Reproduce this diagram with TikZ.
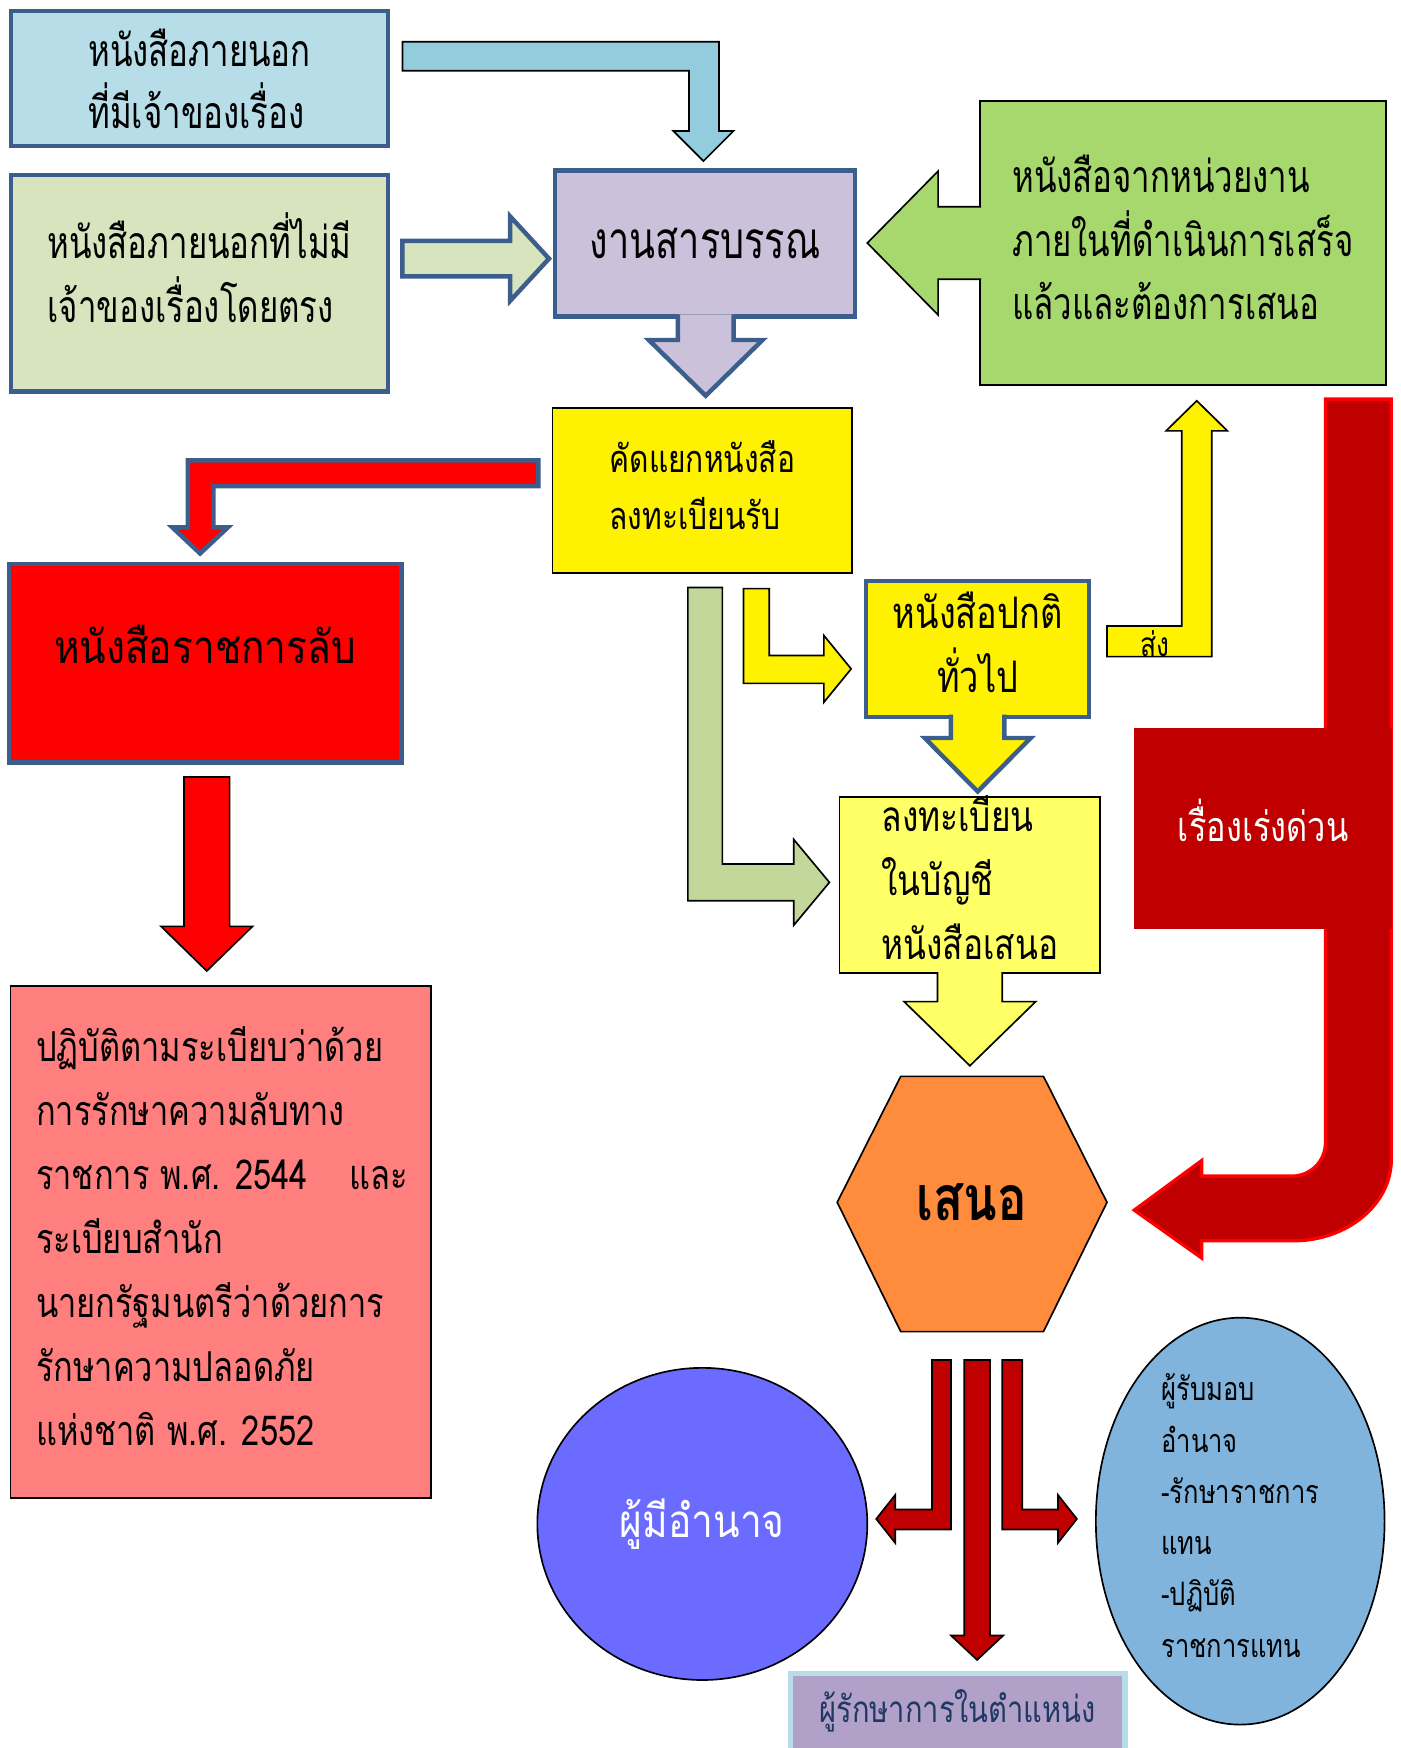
\documentclass[tikz,border=0pt]{standalone}
\usepackage{fontspec}
\usepackage{tikz}
\usetikzlibrary{positioning,calc,shapes.geometric}

\newfontfamily\thainarrow[Script=Thai,FakeStretch=0.74]{Loma}
\newfontfamily\thaifont[Script=Thai,FakeStretch=0.79]{Loma}
\newfontfamily\thaiplain[Script=Thai,FakeStretch=0.85]{Loma}

\definecolor{frameblue}{HTML}{3B5E8C}
\definecolor{paleblue}{HTML}{B7DDE8}
\definecolor{arrowblue}{HTML}{93CDDD}
\definecolor{paleolive}{HTML}{D7E4BD}
\definecolor{lavender}{HTML}{CCC1DA}
\definecolor{leafgreen}{HTML}{A6D86E}
\definecolor{lightyellow}{HTML}{FFFF66}
\definecolor{salmon}{HTML}{FF7F7F}
\definecolor{olivearrow}{HTML}{C4D79B}
\definecolor{darkred}{HTML}{C00000}
\definecolor{hexorange}{HTML}{FF8B3D}
\definecolor{periwinkle}{HTML}{6B6BFF}
\definecolor{skyblue}{HTML}{80B4DD}
\definecolor{mauve}{HTML}{B1A0C7}
\definecolor{navytext}{HTML}{1F3864}

\begin{document}
\begin{tikzpicture}[
    x=1pt, y=-1pt,
    panel/.style={rectangle, inner sep=0pt, outer sep=0pt, align=center},
    words/.style={inner sep=0pt, align=left},
    frame/.style={draw=frameblue, line width=4pt},
    outline/.style={draw=black, line width=1.5pt},
    block/.style={outline, line join=miter}
]
\useasboundingbox (0,0) rectangle (1256,1568);

% Define boxes
\node[panel, frame, fill=paleblue, minimum width=338pt, minimum height=121pt, align=left,
  font=\thainarrow\fontsize{40}{56}\selectfont] (outside) at (179,70.5) {หนังสือภายนอก\\ที่มีเจ้าของเรื่อง};
\node[panel, frame, fill=paleolive, minimum width=338pt, minimum height=194pt] (indirect) at (179,254) {};
\node[words, font=\thainarrow\fontsize{40}{57}\selectfont] (indirecttext) at (179,240) {หนังสือภายนอกที่ไม่มี\\เจ้าของเรื่องโดยตรง};
\node[panel, frame, fill=lavender, minimum width=269pt, minimum height=131pt,
  font=\thainarrow\fontsize{46}{56}\selectfont] (sarabun) at (632.5,218.5) {งานสารบรรณ};
\node[panel, outline, fill=leafgreen, minimum width=364pt, minimum height=255pt] (internal) at (1061,218) {};
\node[words, font=\thainarrow\fontsize{40}{57}\selectfont] (internaltext) at (1061,213) {หนังสือจากหน่วยงาน\\ภายในที่ดำเนินการเสร็จ\\แล้วและต้องการเสนอ};
\node[panel, outline, fill=yellow, minimum width=269pt, minimum height=148pt] (sort) at (630,440) {};
\node[words, font=\thaifont\fontsize{34}{51}\selectfont] (sorttext) at (630,435) {คัดแยกหนังสือ\\ลงทะเบียนรับ};
\node[panel, frame, fill=red, minimum width=352pt, minimum height=178pt, text height=25pt, text depth=25pt,
  font=\thaiplain\fontsize{41}{50}\selectfont] (secret) at (184,595) {หนังสือราชการลับ};
\node[panel, outline, fill=salmon, minimum width=377pt, minimum height=459pt] (rules) at (198,1114) {};
\node[words, font=\thaifont\fontsize{37}{57.4}\selectfont] (rulestext) at (199,1109)
  {ปฏิบัติตามระเบียบว่าด้วย\\การรักษาความลับทาง\\ราชการ พ.ศ. 2544\hspace{1em}และ\\ระเบียบสำนัก\\นายกรัฐมนตรีว่าด้วยการ\\รักษาความปลอดภัย\\แห่งชาติ พ.ศ. 2552};
\node[panel, frame, fill=yellow, minimum width=200pt, minimum height=122pt] (normal) at (877,582) {};
\node[words, align=center, font=\thaifont\fontsize{39}{57}\selectfont] (normaltext) at (877,576) {หนังสือปกติ\\ทั่วไป};
\node[panel, outline, fill=lightyellow, minimum width=234pt, minimum height=158pt] (register) at (870,794) {};
\node[words, font=\thaifont\fontsize{38}{57.5}\selectfont] (registertext) at (870,787) {ลงทะเบียน\\ในบัญชี\\หนังสือเสนอ};

% Callout arrows under / beside boxes
\draw[frame, fill=lavender] ([xshift=-24.5pt,yshift=2pt]sarabun.south) -- ++(0,23) -- ++(-26,0)
  -- ++(51,50) -- ++(51,-50) -- ++(-26,0) -- ++(0,-23);
\draw[outline, fill=leafgreen] ([xshift=1pt,yshift=32.5pt]internal.west) -- ++(-38.5,0) -- ++(0,-32)
  -- ++(-63.5,64.5) -- ++(63.5,64.5) -- ++(0,-32) -- ++(38.5,0);
\draw[frame, fill=yellow] ([xshift=-24pt,yshift=2pt]normal.south) -- ++(0,21) -- ++(-23.5,0)
  -- ++(47.5,48) -- ++(47.5,-48) -- ++(-23.5,0) -- ++(0,-21);
\draw[outline, fill=lightyellow] ([xshift=-29pt,yshift=1pt]register.south) -- ++(0,26.5) -- ++(-30,0)
  -- ++(59,57.5) -- ++(59,-57.5) -- ++(-30,0) -- ++(0,-26.5);

% Block arrows between boxes
\draw[block, fill=arrowblue] ([xshift=-1.5pt,yshift=8.5pt]sarabun.north) -- ++(27,-27) -- ++(-13,0)
  -- ++(0,-80) -- ++(-284,0) -- ++(0,26) -- ++(257,0) -- ++(0,54) -- ++(-14,0) -- cycle;
\draw[frame, line join=miter, fill=paleolive] ([xshift=-5.5pt,yshift=-13.5pt]sarabun.west) -- ++(-35,-38)
  -- ++(0,22) -- ++(-96.5,0) -- ++(0,32) -- ++(96.5,0) -- ++(0,22) -- cycle;
\draw[frame, line join=miter, fill=red] ([xshift=-4.5pt,yshift=9.5pt]secret.north) -- ++(-25,-23.5)
  -- ++(14,0) -- ++(0,-60) -- ++(314.5,0) -- ++(0,23) -- ++(-291.5,0) -- ++(0,37) -- ++(13,0) -- cycle;
\draw[block, fill=red] ([xshift=-12.5pt,yshift=13.5pt]rules.north) -- ++(-41,-40) -- ++(20.5,0)
  -- ++(0,-134) -- ++(41,0) -- ++(0,134) -- ++(20.5,0) -- cycle;
\draw[block, fill=olivearrow] ([xshift=-9pt,yshift=2.5pt]register.west) -- ++(-32,-38.5) -- ++(0,22)
  -- ++(-64,0) -- ++(0,-248) -- ++(-31,0) -- ++(0,281) -- ++(95,0) -- ++(0,22) -- cycle;
\draw[block, fill=yellow] ([xshift=-13.5pt,yshift=-18pt]normal.west) -- ++(-24.5,-30) -- ++(0,18)
  -- ++(-49,0) -- ++(0,-60) -- ++(-23,0) -- ++(0,85) -- ++(72,0) -- ++(0,17) -- cycle;
\draw[block, fill=yellow] ([xshift=12.5pt,yshift=-14pt]internal.south) -- ++(27.5,27) -- ++(-14,0)
  -- ++(0,202.5) -- ++(-94,0) -- ++(0,-27.5) -- ++(67,0) -- ++(0,-175) -- ++(-14,0) -- cycle;
\node[font=\thaifont\fontsize{30}{36}\selectfont, inner sep=0pt] (send) at (1036,577) {ส่ง};

% Urgent path
\draw[draw=red, line width=3pt, fill=darkred, line join=miter] (1189,358) -- (1248,358) -- (1248,1040)
  arc[start angle=0, end angle=90, x radius=88, y radius=73] -- (1078,1113) -- (1078,1128.5)
  -- (1017.5,1085.5) -- (1078,1041) -- (1078,1055) -- (1159,1055)
  arc[start angle=90, end angle=0, radius=30] -- cycle;
\node[panel, fill=darkred, text=white, minimum width=231pt, minimum height=180pt, text height=35pt, text depth=12pt,
  font=\thaifont\fontsize{37}{46}\selectfont] (urgent) at (1133,743) {เรื่องเร่งด่วน};

% Present
\draw[outline, fill=hexorange] (751,1078.5) -- (808,965.5) -- (936,965.5) -- (993,1078.5)
  -- (936,1194.5) -- (808,1194.5) -- cycle;
\node[font=\thaifont\bfseries\fontsize{56}{60}\selectfont, inner sep=0pt] (present) at (872,1078) {เสนอ};

% Outcomes
\node[ellipse, outline, fill=periwinkle, text=white, minimum width=296pt, minimum height=280pt, inner sep=0pt,
  font=\thaiplain\fontsize{41}{46}\selectfont] (authority) at (630,1367) {ผู้มีอำนาจ};
\node[ellipse, outline, fill=skyblue, minimum width=259pt, minimum height=365pt, inner sep=0pt] (delegate) at (1112.5,1364.5) {};
\node[words, font=\thaifont\fontsize{29}{46}\selectfont] (delegatetext) at (1112.5,1359.5)
  {ผู้รับมอบ\\อำนาจ\\-รักษาราชการ\\แทน\\-ปฏิบัติ\\ราชการแทน};
\node[panel, draw=paleblue, line width=5pt, fill=mauve, text=navytext, minimum width=300pt, minimum height=80pt,
  text height=28pt, text depth=20pt, font=\thaifont\fontsize{33}{40}\selectfont] (acting) at (859,1541) {ผู้รักษาการในตำแหน่ง};

\draw[block, fill=darkred] (876.5,1489) -- (853,1467) -- (865,1467) -- (865,1220) -- (888,1220)
  -- (888,1467) -- (900,1467) -- cycle;
\draw[block, fill=darkred] (786,1362.5) -- (803,1341) -- (803,1354) -- (836,1354) -- (836,1220)
  -- (853,1220) -- (853,1372) -- (803,1372) -- (803,1384) -- cycle;
\draw[block, fill=darkred] (966,1362.5) -- (949,1384) -- (949,1372) -- (899,1372) -- (899,1220)
  -- (917,1220) -- (917,1354) -- (949,1354) -- (949,1341) -- cycle;

\end{tikzpicture}
\end{document}
